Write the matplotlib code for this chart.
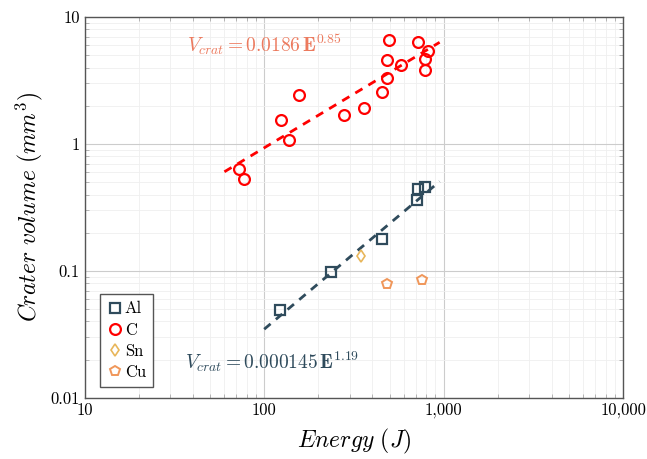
import numpy as np
import matplotlib
matplotlib.use('Agg')
import matplotlib.pyplot as plt
from matplotlib import rcParams
from matplotlib.ticker import FuncFormatter, LogLocator, NullFormatter

rcParams['font.family'] = 'serif'
rcParams['font.serif'] = ['cmr10', 'DejaVu Serif']
rcParams['mathtext.fontset'] = 'cm'
rcParams['axes.formatter.use_mathtext'] = True
rcParams['axes.unicode_minus'] = False

# data
al_energy = [122, 235, 451, 708, 723, 788]
al_volume = [0.049, 0.098, 0.179, 0.362, 0.442, 0.456]

c_energy = [494, 723, 822, 485, 785, 581, 788, 482, 453, 157, 360, 278, 124, 137, 72.3, 76.7]
c_volume = [6.6, 6.35, 5.4, 4.6, 4.7, 4.15, 3.8, 3.3, 2.55, 2.43, 1.93, 1.68, 1.54, 1.08, 0.64, 0.53]

sn_energy = [346]
sn_volume = [0.132]

cu_energy = [482, 755]
cu_volume = [0.079, 0.085]

# power-law fits
c_fit = (0.0186, 0.85, 60, 950)
al_fit = (0.000145, 1.19, 100, 950)

col_al = '#2f4b5c'
col_c = '#ff0000'
col_sn = '#e8b65a'
col_cu = '#f0975a'
col_ctext = '#ec7a5e'

fig, ax = plt.subplots(figsize=(6.47, 4.59), dpi=100)
fig.subplots_adjust(left=0.131, right=0.963, top=0.963, bottom=0.133)

ax.set_xscale('log')
ax.set_yscale('log')
ax.set_xlim(10, 10000)
ax.set_ylim(0.01, 10)

# fit lines
for (a, b, e0, e1), col in [(c_fit, col_c), (al_fit, col_al)]:
    e = np.logspace(np.log10(e0), np.log10(e1), 50)
    ax.plot(e, a * e**b, ls=(0, (3, 2.5)), lw=2, color=col, zorder=3)

ax.plot(al_energy, al_volume, 's', ms=7.5, mfc='none', mec=col_al, mew=1.6, label='Al', zorder=4)
ax.plot(c_energy, c_volume, 'o', ms=7.8, mfc='none', mec=col_c, mew=1.6, label='C', zorder=4)
ax.plot(sn_energy, sn_volume, 'd', ms=6, mfc='none', mec=col_sn, mew=1.2, label='Sn', zorder=4)
ax.plot(cu_energy, cu_volume, 'p', ms=7.5, mfc='none', mec=col_cu, mew=1.4, label='Cu', zorder=4)

ax.text(37, 6.0, r'$V_{crat} = 0.0186\,\mathbf{E}^{0.85}$', color=col_ctext,
        fontsize=14, va='center', ha='left')
ax.text(36, 0.0193, r'$V_{crat} = 0.000145\,\mathbf{E}^{1.19}$', color=col_al,
        fontsize=14, va='center', ha='left')

# grid and ticks
ax.grid(True, which='major', color='#cccccc', lw=0.8)
ax.grid(True, which='minor', color='#efefef', lw=0.6)
ax.set_axisbelow(True)
ax.xaxis.set_minor_locator(LogLocator(base=10, subs=np.arange(2, 10)))
ax.yaxis.set_minor_locator(LogLocator(base=10, subs=np.arange(2, 10)))
ax.xaxis.set_minor_formatter(NullFormatter())
ax.yaxis.set_minor_formatter(NullFormatter())
ax.xaxis.set_major_formatter(FuncFormatter(lambda v, p: f'{v:,.0f}'))
ax.yaxis.set_major_formatter(FuncFormatter(lambda v, p: f'{v:g}'))
ax.tick_params(which='both', direction='in', top=True, right=True, color='#aaaaaa')
ax.tick_params(which='major', length=0, labelsize=12)
ax.tick_params(which='minor', length=3)
for s in ax.spines.values():
    s.set_color('#555555')
    s.set_linewidth(1.0)

ax.set_xlabel(r'$\mathit{Energy\ (J)}$', fontsize=17, labelpad=6)
ax.set_ylabel(r'$\mathit{Crater\ volume\ (mm^3)}$', fontsize=17, labelpad=4)

leg = ax.legend(loc='lower left', fontsize=12, handletextpad=0.1, handlelength=1.0,
                borderpad=0.4, labelspacing=0.35, fancybox=False, framealpha=1,
                bbox_to_anchor=(0.028, 0.03), borderaxespad=0)
leg.get_frame().set_edgecolor('#555555')
leg.get_frame().set_linewidth(1.0)

fig.savefig('out.png', dpi=100)
